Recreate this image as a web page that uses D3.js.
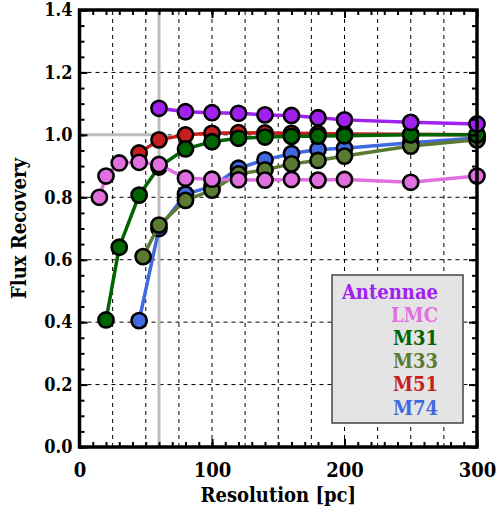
<!DOCTYPE html>
<html><head><meta charset="utf-8">
<script src="https://cdn.jsdelivr.net/npm/d3@7"></script>
<style>
body{margin:0;background:#fff;}
svg text{font-family:"DejaVu Serif Condensed","DejaVu Serif",serif;font-stretch:condensed;font-weight:bold;}
</style></head>
<body><svg id="c" width="496" height="508"></svg>
<script>
// ---- data ----
const antennaeX = [60,80,100,120,140,160,180,200,250,300];
const antennaeY = [1.085,1.074,1.071,1.069,1.064,1.062,1.055,1.048,1.040,1.035];
const lmcX = [15,20,30,45,60,80,100,120,140,160,180,200,250,300];
const lmcY = [0.800,0.868,0.910,0.912,0.905,0.861,0.858,0.856,0.855,0.857,0.855,0.857,0.848,0.868];
const m31X = [20,30,45,60,80,100,120,140,160,180,200,250,300];
const m31Y = [0.407,0.640,0.807,0.897,0.955,0.978,0.989,0.993,0.995,0.996,0.997,1.000,1.000];
const m33X = [48,60,80,100,120,140,160,180,200,250,300];
const m33Y = [0.610,0.711,0.790,0.823,0.875,0.888,0.907,0.918,0.932,0.964,0.984];
const m51X = [45,60,80,100,120,140,160,180,200,250,300];
const m51Y = [0.942,0.984,1.000,1.005,1.007,1.006,1.005,1.004,1.003,1.002,1.000];
const m74X = [45,60,80,100,120,140,160,180,200,250,300];
const m74Y = [0.405,0.700,0.810,0.835,0.893,0.920,0.940,0.953,0.957,0.975,0.990];
const seriesNames = ["Antennae","LMC","M31","M33","M51","M74"];
const seriesColors = ["#a020f0","#e070e0","#006400","#5a7a32","#c41e1e","#4169e1"];
const xTicks = [0,100,200,300];
const yTicks = [0,0.2,0.4,0.6,0.8,1.0,1.2,1.4];
const xRefValue = 60, yRefValue = 1.0;

const svg = d3.select("#c");
const x = d3.scaleLinear().domain([0,300]).range([79.5,477]);
const y = d3.scaleLinear().domain([0,1.4]).range([447,10]);

// grid
const g = svg.append("g");
g.selectAll(".vg").data(d3.range(25,300,25)).join("line")
  .attr("x1",d=>x(d)).attr("x2",d=>x(d)).attr("y1",y(0)).attr("y2",y(1.4))
  .attr("stroke","#000").attr("stroke-width",1).attr("stroke-dasharray","4,4");
g.selectAll(".hg").data([0.2,0.4,0.6,0.8,1.0,1.2]).join("line")
  .attr("y1",d=>y(d)).attr("y2",d=>y(d)).attr("x1",x(0)).attr("x2",x(300))
  .attr("stroke","#000").attr("stroke-width",1).attr("stroke-dasharray","4,4");

// reference lines
svg.append("line").attr("x1",x(xRefValue)).attr("x2",x(xRefValue)).attr("y1",y(0)).attr("y2",y(1.4))
  .attr("stroke","#bdbdbd").attr("stroke-width",3);
svg.append("line").attr("x1",x(0)).attr("x2",x(xRefValue)).attr("y1",y(yRefValue)).attr("y2",y(yRefValue))
  .attr("stroke","#bdbdbd").attr("stroke-width",3);

// series
const allX = [antennaeX,lmcX,m31X,m33X,m51X,m74X];
const allY = [antennaeY,lmcY,m31Y,m33Y,m51Y,m74Y];
const drawOrder = [4,5,3,2,1,0];
const line = d3.line().x(d=>x(d[0])).y(d=>y(d[1]));
drawOrder.forEach(i=>{
  const pts = allX[i].map((v,j)=>[v,allY[i][j]]);
  const sg = svg.append("g");
  sg.append("path").datum(pts).attr("d",line).attr("fill","none")
    .attr("stroke",seriesColors[i]).attr("stroke-width",3.5);
  sg.selectAll("circle").data(pts).join("circle")
    .attr("cx",d=>x(d[0])).attr("cy",d=>y(d[1])).attr("r",7.6)
    .attr("fill",seriesColors[i]).attr("stroke","#000").attr("stroke-width",2.6);
});

// legend
const lg = svg.append("g");
lg.append("rect").attr("x",332).attr("y",275).attr("width",131).attr("height",148)
  .attr("fill","#e4e4e4").attr("stroke","#444").attr("stroke-width",1.5);
lg.selectAll("text").data(seriesNames).join("text")
  .attr("x",438).attr("y",(d,i)=>298.5+i*23.2).attr("text-anchor","end")
  .attr("font-size",20).attr("fill",(d,i)=>seriesColors[i]).text(d=>d);

// axes (ticks inward)
function styleAxis(sel){ sel.select(".domain").remove(); sel.selectAll("line").attr("stroke","#000").attr("stroke-width",2); sel.selectAll("text").attr("fill","#000"); }
const minorX = d3.range(0,301,10), minorY = d3.range(0,1.401,0.05);
svg.append("g").attr("transform",`translate(0,${y(0)})`)
  .call(d3.axisBottom(x).tickValues(xTicks).tickSize(-8).tickPadding(16).tickFormat(d3.format("d"))).call(styleAxis)
  .selectAll("text").attr("font-size",20);
svg.append("g").attr("transform",`translate(0,${y(0)})`)
  .call(d3.axisBottom(x).tickValues(minorX).tickSize(-5).tickFormat("")).call(styleAxis);
svg.append("g").attr("transform",`translate(0,${y(1.4)})`)
  .call(d3.axisTop(x).tickValues(xTicks).tickSize(-8).tickFormat("")).call(styleAxis);
svg.append("g").attr("transform",`translate(0,${y(1.4)})`)
  .call(d3.axisTop(x).tickValues(minorX).tickSize(-5).tickFormat("")).call(styleAxis);
svg.append("g").attr("transform",`translate(${x(0)},0)`)
  .call(d3.axisLeft(y).tickValues(yTicks).tickSize(-8).tickPadding(7).tickFormat(d3.format(".1f"))).call(styleAxis)
  .selectAll("text").attr("font-size",18);
svg.append("g").attr("transform",`translate(${x(0)},0)`)
  .call(d3.axisLeft(y).tickValues(minorY).tickSize(-5).tickFormat("")).call(styleAxis);
svg.append("g").attr("transform",`translate(${x(300)},0)`)
  .call(d3.axisRight(y).tickValues(yTicks).tickSize(-8).tickFormat("")).call(styleAxis);
svg.append("g").attr("transform",`translate(${x(300)},0)`)
  .call(d3.axisRight(y).tickValues(minorY).tickSize(-5).tickFormat("")).call(styleAxis);

// frame
svg.append("rect").attr("x",x(0)).attr("y",y(1.4)).attr("width",x(300)-x(0)).attr("height",y(0)-y(1.4))
  .attr("fill","none").attr("stroke","#000").attr("stroke-width",3.5);

// titles
svg.append("text").attr("x",(x(0)+x(300))/2).attr("y",502).attr("text-anchor","middle")
  .attr("font-size",20).text("Resolution [pc]");
svg.append("text").attr("transform",`translate(26,${(y(0)+y(1.4))/2}) rotate(-90)`).attr("text-anchor","middle")
  .attr("font-size",20).text("Flux Recovery");
</script></body></html>
